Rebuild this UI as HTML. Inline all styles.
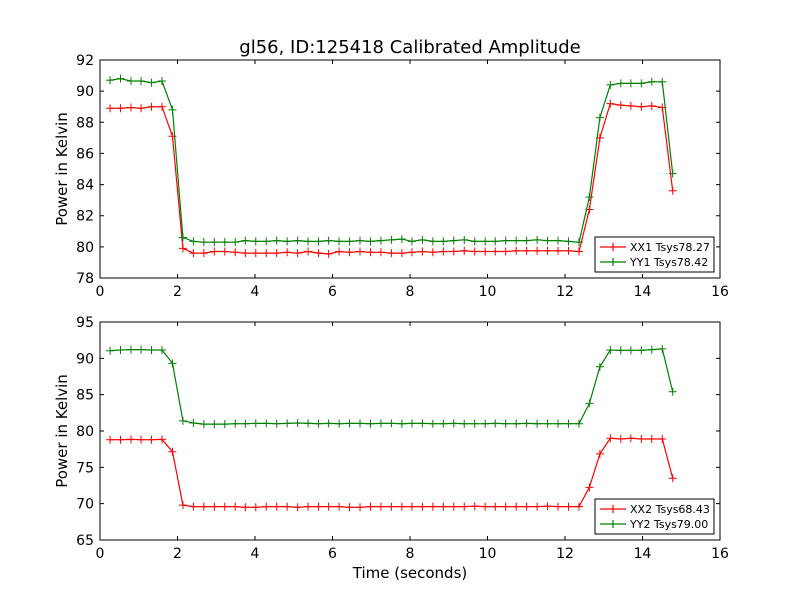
<!DOCTYPE html>
<html><head><meta charset="utf-8"><style>body{margin:0;background:#fff}svg{display:block;font-family:"DejaVu Sans","Liberation Sans",sans-serif}</style></head>
<body>
<svg id="chart" width="800" height="600" viewBox="0 0 800 600" xmlns="http://www.w3.org/2000/svg">
<rect width="800" height="600" fill="#fff"/>
<text x="410" y="53" font-size="18" text-anchor="middle">gl56, ID:125418 Calibrated Amplitude</text>
<g id="p1"></g><g id="p2"></g>
<text x="410" y="578" font-size="15" text-anchor="middle">Time (seconds)</text>
</svg>
<script>
const times=[0.26,0.53,0.80,1.06,1.33,1.60,1.87,2.14,2.41,2.68,2.95,3.22,3.49,3.75,4.02,4.29,4.56,4.83,5.10,5.37,5.64,5.90,6.17,6.44,6.71,6.98,7.25,7.52,7.79,8.05,8.32,8.59,8.86,9.13,9.40,9.67,9.94,10.20,10.47,10.74,11.01,11.28,11.55,11.82,12.09,12.36,12.63,12.90,13.17,13.44,13.70,13.97,14.24,14.51,14.78];
const xx1=[88.9,88.9,88.95,88.9,89.0,89.0,87.1,79.9,79.6,79.6,79.7,79.7,79.65,79.6,79.6,79.6,79.6,79.65,79.6,79.7,79.6,79.55,79.7,79.65,79.7,79.65,79.65,79.6,79.6,79.65,79.7,79.65,79.7,79.7,79.75,79.7,79.7,79.7,79.7,79.75,79.75,79.75,79.75,79.75,79.75,79.7,82.4,87.0,89.2,89.1,89.05,89.0,89.05,88.95,83.6];
const yy1=[90.7,90.8,90.65,90.65,90.55,90.65,88.8,80.6,80.35,80.3,80.3,80.3,80.3,80.4,80.35,80.35,80.4,80.35,80.4,80.35,80.35,80.4,80.35,80.35,80.4,80.35,80.4,80.45,80.5,80.35,80.45,80.35,80.35,80.4,80.45,80.35,80.35,80.35,80.4,80.4,80.4,80.45,80.4,80.4,80.35,80.3,83.2,88.3,90.4,90.5,90.5,90.5,90.6,90.6,84.7];
const xx2=[78.8,78.8,78.85,78.8,78.8,78.85,77.15,69.8,69.6,69.6,69.6,69.6,69.6,69.5,69.5,69.6,69.6,69.6,69.5,69.6,69.6,69.6,69.6,69.5,69.5,69.6,69.6,69.6,69.6,69.6,69.6,69.6,69.6,69.6,69.6,69.65,69.6,69.6,69.6,69.6,69.6,69.6,69.65,69.6,69.6,69.6,72.25,76.85,79.0,78.9,79.0,78.9,78.9,78.9,73.5];
const yy2=[91.05,91.15,91.2,91.2,91.15,91.15,89.3,81.4,81.1,80.95,80.95,80.95,81.0,81.0,81.05,81.05,81.0,81.05,81.1,81.05,81.0,81.05,81.0,81.05,81.05,81.0,81.05,81.05,81.0,81.05,81.05,81.0,81.0,81.05,81.0,81.0,81.0,81.05,81.0,81.0,81.05,81.0,81.0,81.0,81.0,81.0,83.8,88.85,91.15,91.1,91.1,91.1,91.2,91.3,85.4];
const xTicks=[0,2,4,6,8,10,12,14,16];
const yTicks1=[78,80,82,84,86,88,90,92];
const yTicks2=[65,70,75,80,85,90,95];
const legend1=["XX1 Tsys78.27","YY1 Tsys78.42"];
const legend2=["XX2 Tsys68.43","YY2 Tsys79.00"];
const NS="http://www.w3.org/2000/svg";
function mk(parent,tag,attrs){const e=document.createElementNS(NS,tag);for(const k in attrs)e.setAttribute(k,attrs[k]);parent.appendChild(e);return e;}
function panel(g,top,bot,ymin,ymax,yTicks,s1,s2,leg,name){
  const L=100,R=720;
  const sx=v=>L+(v-0)/(16-0)*(R-L);
  const sy=v=>bot-(v-ymin)/(ymax-ymin)*(bot-top);
  [[s1,"#ff0000",leg[0]],[s2,"#008000",leg[1]]].forEach(([s,c,lbl],si)=>{
    let d="";s.forEach((v,i)=>{d+=(i?"L":"M")+sx(times[i]).toFixed(1)+","+sy(v).toFixed(1);});
    const p=mk(g,"path",{d:d,fill:"none",stroke:c,"stroke-width":1.2});
    
    
    s.forEach((v,i)=>{const x=sx(times[i]),y=sy(v);
      const m=mk(g,"path",{d:`M${x-4},${y}h8M${x},${y-4}v8`,stroke:c,"stroke-width":1});
      
      });
  });
  const fr=mk(g,"rect",{x:L,y:top,width:R-L,height:bot-top,fill:"none",stroke:"#000","stroke-width":1});
  
  
  xTicks.forEach(t=>{const x=sx(t);
    mk(g,"path",{d:`M${x},${bot}v-4M${x},${top}v4`,stroke:"#000"});
    const tx=mk(g,"text",{x:x,y:bot+18,"font-size":14,"text-anchor":"middle"});tx.textContent=t;
    
    });
  yTicks.forEach(t=>{const y=sy(t);
    mk(g,"path",{d:`M${L},${y}h4M${R},${y}h-4`,stroke:"#000"});
    const tx=mk(g,"text",{x:L-6,y:y+5,"font-size":14,"text-anchor":"end"});tx.textContent=t;
    
    });
  const yt=mk(g,"text",{x:0,y:0,"font-size":15,"text-anchor":"middle",transform:`translate(67,${(top+bot)/2}) rotate(-90)`});
  yt.textContent="Power in Kelvin";
  
  
  const lg=mk(g,"g",{});
  
  
  const ly=bot-41;
  mk(lg,"rect",{x:595,y:ly,width:119,height:35,fill:"#fff",stroke:"#000"});
  [["#ff0000",leg[0]],["#008000",leg[1]]].forEach(([c,l],k)=>{const yy=ly+10+k*15;
    mk(lg,"path",{d:`M600,${yy}h26M613,${yy-4}v8`,stroke:c,"stroke-width":1.2});
    const t=mk(lg,"text",{x:630,y:yy+4,"font-size":11});t.textContent=l;
    
    });
}
panel(document.getElementById("p1"),60,278,78,92,yTicks1,xx1,yy1,legend1,"top-plot");
panel(document.getElementById("p2"),322,540,65,95,yTicks2,xx2,yy2,legend2,"bottom-plot");
</script>
</body></html>
